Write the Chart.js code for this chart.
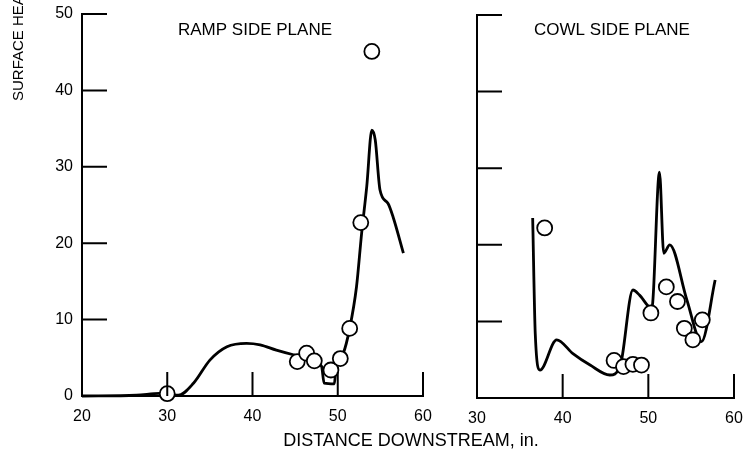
<!DOCTYPE html>
<html>
<head>
<meta charset="utf-8">
<script src="https://cdn.jsdelivr.net/npm/chart.js@4/dist/chart.umd.min.js"></script>
<style>
  body { margin: 0; background: #fff; }
  #wrap { position: relative; width: 749px; height: 460px; background: #fff; }
  #wrap canvas { position: absolute; left: 0; top: 0; }
</style>
</head>
<body>
<div id="wrap">
  <canvas id="rampChart" width="749" height="460"></canvas>
  <canvas id="cowlChart" width="749" height="460"></canvas>
</div>
<script>
// ramp side plane - faired curve
const rampCurveX = [20, 26.4, 29.1, 31.3, 33.1, 35.0, 37.0, 39.3, 40.9, 42.8, 44.8, 46.4, 48.1, 48.4, 49.6, 49.8, 50.65, 51.4, 52.2, 52.8, 53.4, 54.0, 54.4, 54.95, 55.9, 56.5, 57.7];
const rampCurveY = [0, 0.1, 0.35, 0.1, 1.7, 4.7, 6.45, 6.9, 6.7, 6.0, 5.4, 5.0, 3.9, 1.7, 1.6, 3.8, 5.6, 8.85, 14.3, 21.3, 27.4, 34.8, 33.5, 27.0, 25.2, 23.4, 18.7];
// ramp side plane - measured
const rampDataX = [30, 45.25, 46.35, 47.25, 49.2, 50.3, 51.4, 52.7, 54.0];
const rampDataY = [0.3, 4.5, 5.6, 4.6, 3.4, 4.9, 8.85, 22.7, 45.1];

// cowl side plane - faired curve
const cowlCurveX = [36.5, 36.8, 37.35, 39.3, 41.2, 43.2, 45.5, 46.7, 48.2, 49.0, 50.4, 51.3, 51.8, 52.5, 54.5, 56.2, 57.8];
const cowlCurveY = [23.5, 8.4, 3.65, 7.6, 5.8, 4.3, 3.0, 4.1, 14.1, 13.4, 11.7, 29.5, 18.9, 20.0, 12.8, 7.35, 15.4];
// cowl side plane - measured
const cowlDataX = [37.9, 46.0, 47.1, 48.2, 49.2, 50.3, 52.1, 53.4, 54.2, 55.2, 56.3];
const cowlDataY = [22.2, 4.9, 4.1, 4.4, 4.3, 11.1, 14.5, 12.6, 9.1, 7.6, 10.2];

const yTickValues = [10, 20, 30, 40, 50];
const rampXTickValues = [30, 40, 50, 60];
const cowlXTickValues = [40, 50, 60];

const FONT = "'Liberation Sans', Arial, sans-serif";

function toPoints(xs, ys){
    return xs.map((x, i) => ({x: x, y: ys[i]}));
}

// tick marks point into the plot on this figure
const inwardTicks = {
    id: 'inwardTicks',
    afterDraw(chart, args, opts){
        const ctx = chart.ctx;
        const a = chart.chartArea;
        const xs = chart.scales.x;
        const ys = chart.scales.y;
        ctx.save();
        ctx.strokeStyle = '#000';
        ctx.lineWidth = 2;
        ctx.beginPath();
        opts.yTicks.forEach(v => {
            const py = ys.getPixelForValue(v);
            ctx.moveTo(a.left, py);
            ctx.lineTo(a.left + 25, py);
        });
        opts.xTicks.forEach(v => {
            const px = xs.getPixelForValue(v);
            ctx.moveTo(px, a.bottom);
            ctx.lineTo(px, a.bottom - 24);
        });
        ctx.stroke();
        ctx.restore();
    }
};

const figureText = {
    id: 'figureText',
    afterDraw(chart, args, opts){
        const ctx = chart.ctx;
        ctx.save();
        ctx.fillStyle = '#000';
        ctx.font = "17px " + FONT;
        ctx.textAlign = 'center';
        ctx.textBaseline = 'middle';
        ctx.fillText(opts.title, opts.titleX, 30);
        if (opts.axisTitles){
            ctx.font = "18px " + FONT;
            ctx.fillText('DISTANCE DOWNSTREAM, in.', 411, 441);
            ctx.font = "15px " + FONT;
            ctx.translate(19, 101);
            ctx.rotate(-Math.PI / 2);
            ctx.textAlign = 'left';
            ctx.fillText('SURFACE HEA', 0, 0);
        }
        ctx.restore();
    }
};

function makeChart(id, cfg){
    return new Chart(document.getElementById(id), {
        type: 'scatter',
        data: {
            datasets: [
                {
                    data: toPoints(cfg.dataX, cfg.dataY),
                    pointRadius: 7.5,
                    pointBackgroundColor: '#fff',
                    pointBorderColor: '#000',
                    pointBorderWidth: 1.8,
                    showLine: false,
                    clip: false
                },
                {
                    data: toPoints(cfg.curveX, cfg.curveY),
                    showLine: true,
                    borderColor: '#000',
                    borderWidth: 2.8,
                    pointRadius: 0,
                    cubicInterpolationMode: 'monotone',
                    clip: false
                }
            ]
        },
        options: {
            responsive: false,
            animation: false,
            events: [],
            layout: { padding: cfg.padding },
            plugins: {
                legend: { display: false },
                tooltip: { enabled: false },
                inwardTicks: { yTicks: yTickValues, xTicks: cfg.xTicks },
                figureText: { title: cfg.title, titleX: cfg.titleX, axisTitles: cfg.axisTitles }
            },
            scales: {
                x: {
                    type: 'linear',
                    min: cfg.xMin,
                    max: 60,
                    afterFit: s => {
                        s.height = cfg.xHeight;
                        s.paddingLeft = 0;
                        s.paddingRight = 0;
                    },
                    grid: { display: true, drawOnChartArea: false, drawTicks: false },
                    border: { display: true, color: '#000', width: 2 },
                    ticks: {
                        stepSize: 10,
                        padding: 11,
                        color: '#000',
                        font: { family: FONT, size: 16 }
                    }
                },
                y: {
                    min: 0,
                    max: 50,
                    afterFit: s => {
                        s.width = cfg.yWidth;
                        s.paddingTop = 0;
                        s.paddingBottom = 0;
                    },
                    grid: { display: true, drawOnChartArea: false, drawTicks: false },
                    border: { display: true, color: '#000', width: 2 },
                    ticks: {
                        display: cfg.yLabels,
                        stepSize: 10,
                        padding: 9,
                        color: '#000',
                        font: { family: FONT, size: 16 }
                    }
                }
            }
        },
        plugins: [inwardTicks, figureText]
    });
}

makeChart('rampChart', {
    dataX: rampDataX, dataY: rampDataY,
    curveX: rampCurveX, curveY: rampCurveY,
    xMin: 20, xTicks: rampXTickValues,
    padding: { top: 14, right: 326, left: 0, bottom: 0 },
    yWidth: 82, xHeight: 64, yLabels: true,
    title: 'RAMP SIDE PLANE', titleX: 255, axisTitles: true
});

makeChart('cowlChart', {
    dataX: cowlDataX, dataY: cowlDataY,
    curveX: cowlCurveX, curveY: cowlCurveY,
    xMin: 30, xTicks: cowlXTickValues,
    padding: { top: 15, right: 15, left: 0, bottom: 0 },
    yWidth: 477, xHeight: 62, yLabels: false,
    title: 'COWL SIDE PLANE', titleX: 612, axisTitles: false
});
</script>
</body>
</html>
